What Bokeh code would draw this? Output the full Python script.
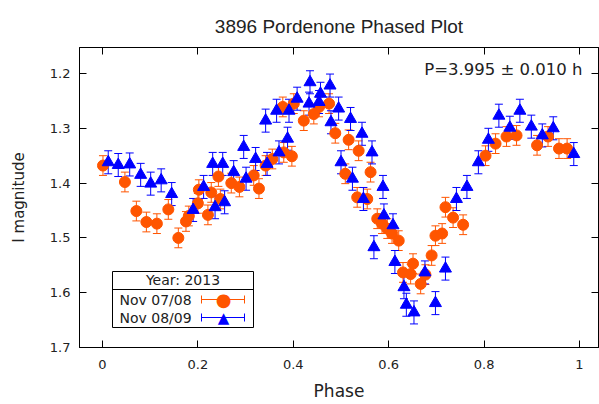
from bokeh.plotting import figure
from bokeh.models import (ColumnDataSource, Range1d, FixedTicker, LinearAxis,
                          Whisker, TeeHead, Label, BoxAnnotation, Arrow)
from bokeh.embed import file_html
from bokeh.resources import INLINE

# ---------------- data ----------------
TITLE = "3896 Pordenone Phased Plot"
X_LABEL = "Phase"
Y_LABEL = "I magnitude"
PERIOD_TEXT = "P=3.995 \u00b1 0.010 h"
LEGEND_TITLE = "Year: 2013"
series_names = ["Nov 07/08", "Nov 08/09"]

x_ticks = [0, 0.2, 0.4, 0.6, 0.8, 1]
x_tick_labels = ["0", "0.2", "0.4", "0.6", "0.8", "1"]
y_ticks = [1.2, 1.3, 1.4, 1.5, 1.6, 1.7]
y_tick_labels = ["1.2", "1.3", "1.4", "1.5", "1.6", "1.7"]

# Nov 07/08 (orange circles)
phase_a = [0.001, 0.047, 0.071, 0.092, 0.114, 0.138, 0.159, 0.175, 0.181, 0.200,
           0.202, 0.221, 0.228, 0.243, 0.247, 0.270, 0.287, 0.317, 0.328, 0.342,
           0.356, 0.380, 0.397, 0.378, 0.401, 0.422, 0.443, 0.454, 0.475, 0.488,
           0.509, 0.516, 0.534, 0.537, 0.555, 0.562, 0.576, 0.586, 0.597, 0.607,
           0.621, 0.630, 0.646, 0.651, 0.667, 0.677, 0.690, 0.698, 0.712, 0.719,
           0.735, 0.756, 0.803, 0.824, 0.847, 0.868, 0.911, 0.934, 0.957, 0.974]
mag_a = [1.368, 1.398, 1.451, 1.471, 1.474, 1.448, 1.500, 1.470, 1.460, 1.437,
         1.412, 1.458, 1.417, 1.388, 1.429, 1.400, 1.407, 1.386, 1.410, 1.368,
         1.356, 1.344, 1.351, 1.261, 1.255, 1.286, 1.274, 1.261, 1.255, 1.309,
         1.383, 1.321, 1.426, 1.341, 1.429, 1.380, 1.465, 1.474, 1.483, 1.492,
         1.505, 1.563, 1.566, 1.547, 1.584, 1.567, 1.532, 1.496, 1.492, 1.444,
         1.463, 1.476, 1.350, 1.328, 1.315, 1.313, 1.331, 1.315, 1.337, 1.337]
err_a = 0.018

# Nov 08/09 (blue triangles)
phase_b = [0.012, 0.033, 0.057, 0.080, 0.101, 0.123, 0.145, 0.190, 0.212, 0.231,
           0.236, 0.252, 0.256, 0.275, 0.296, 0.301, 0.321, 0.342, 0.345, 0.365,
           0.370, 0.388, 0.391, 0.408, 0.433, 0.435, 0.454, 0.457, 0.477, 0.479,
           0.495, 0.500, 0.520, 0.524, 0.544, 0.547, 0.565, 0.569, 0.588, 0.590,
           0.609, 0.613, 0.632, 0.637, 0.653, 0.676, 0.698, 0.719, 0.742, 0.764,
           0.788, 0.809, 0.831, 0.854, 0.875, 0.899, 0.922, 0.945, 0.988]
mag_b = [1.362, 1.367, 1.366, 1.385, 1.401, 1.395, 1.420, 1.449, 1.407, 1.365,
         1.444, 1.365, 1.435, 1.380, 1.334, 1.392, 1.356, 1.286, 1.365, 1.268,
         1.344, 1.319, 1.268, 1.246, 1.255, 1.216, 1.252, 1.237, 1.222, 1.289,
         1.264, 1.362, 1.283, 1.392, 1.310, 1.429, 1.344, 1.517, 1.407, 1.459,
         1.477, 1.544, 1.590, 1.622, 1.636, 1.563, 1.619, 1.556, 1.429, 1.407,
         1.362, 1.321, 1.277, 1.299, 1.268, 1.297, 1.313, 1.300, 1.347]
err_b = 0.021

# ---------------- styling / layout ----------------
ORANGE = "#ff5500"
BLUE = "#0000ff"
TXT = "#222222"
W, H = 599, 404
B_LEFT, B_TOP, B_BOTTOM, B_RIGHT = 79, 47, 57, 1
frame_w = W - B_LEFT - B_RIGHT
frame_h = H - B_TOP - B_BOTTOM
PX_PER_PHASE = 477.0
PX_PER_MAG = 548.0
x_start = -23.0 / PX_PER_PHASE
y_bottom = 1.7

p = figure(width=W, height=H,
           x_range=Range1d(x_start, x_start + frame_w / PX_PER_PHASE),
           y_range=Range1d(y_bottom, y_bottom - frame_h / PX_PER_MAG),
           output_backend="svg", toolbar_location=None,
           min_border_left=B_LEFT, min_border_right=B_RIGHT,
           min_border_top=B_TOP, min_border_bottom=B_BOTTOM,
           title=TITLE)
p.background_fill_color = "white"
p.border_fill_color = "white"
p.grid.visible = False
p.outline_line_color = "black"
p.outline_line_width = 1

p.title.text_font = "Liberation Sans"
p.title.text_font_size = "19px"
p.title.text_font_style = "normal"
p.title.text_color = TXT
p.title.align = "center"
p.title.standoff = 22


def style_axis(ax, ticks, labels, show_labels):
    ax.ticker = FixedTicker(ticks=ticks)
    ax.major_label_overrides = {t: (l if show_labels else "") for t, l in zip(ticks, labels)}
    ax.major_tick_in = 7
    ax.major_tick_out = 0
    ax.minor_tick_line_color = None
    ax.major_tick_line_color = "black"
    ax.axis_line_color = "black"
    ax.major_label_text_font = "DejaVu Sans"
    ax.major_label_text_font_size = "13px"
    ax.major_label_text_color = TXT
    ax.axis_label_text_font = "DejaVu Sans"
    ax.axis_label_text_font_style = "normal"
    ax.axis_label_text_color = TXT


xa = p.xaxis[0]
style_axis(xa, x_ticks, x_tick_labels, True)
xa.axis_label = X_LABEL
xa.axis_label_text_font_size = "17px"
xa.major_label_standoff = 12
xa.axis_label_standoff = 9

ya = p.yaxis[0]
style_axis(ya, y_ticks, y_tick_labels, True)
ya.axis_label = Y_LABEL
ya.axis_label_text_font_size = "15px"
ya.major_label_standoff = 9
ya.axis_label_standoff = 19

top_ax = LinearAxis()
style_axis(top_ax, x_ticks, x_tick_labels, False)
top_ax.major_label_standoff = 0
p.add_layout(top_ax, "above")
right_ax = LinearAxis()
style_axis(right_ax, y_ticks, y_tick_labels, False)
right_ax.major_label_standoff = 0
p.add_layout(right_ax, "right")

src_a = ColumnDataSource(dict(x=phase_a, y=mag_a,
                              upper=[m + err_a for m in mag_a],
                              lower=[m - err_a for m in mag_a]))
src_b = ColumnDataSource(dict(x=phase_b, y=mag_b,
                              upper=[m + err_b for m in mag_b],
                              lower=[m - err_b for m in mag_b]))

for src, col in ((src_a, ORANGE), (src_b, BLUE)):
    p.add_layout(Whisker(source=src, base="x", upper="upper", lower="lower",
                         dimension="height", line_color=col, line_width=1,
                         upper_head=TeeHead(size=8, line_color=col, line_width=1),
                         lower_head=TeeHead(size=8, line_color=col, line_width=1)))

p.scatter("x", "y", source=src_a, marker="circle", size=11,
          fill_color=ORANGE, line_color=ORANGE)
p.scatter("x", "y", source=src_b, marker="triangle", size=12,
          fill_color=BLUE, line_color=BLUE)

# period label
p.add_layout(Label(x=frame_w - 16, y=frame_h - 22, x_units="screen", y_units="screen",
                   text=PERIOD_TEXT, text_align="right", text_baseline="middle",
                   text_font="DejaVu Sans", text_font_size="16.5px", text_color=TXT))

# legend box (frame-relative screen units)
LX0, LX1, LY0, LY1, LSEP = 33, 174, 20, 76, 58
p.add_layout(BoxAnnotation(left=LX0, right=LX1, bottom=LY0, top=LY1,
                           left_units="screen", right_units="screen",
                           top_units="screen", bottom_units="screen",
                           fill_color="white", fill_alpha=1.0,
                           line_color="black", line_width=1, line_alpha=1.0))
p.add_layout(Arrow(x_start=LX0, y_start=LSEP, x_end=LX1, y_end=LSEP,
                   start_units="screen", end_units="screen",
                   start=None, end=None, line_color="black", line_width=1))
p.add_layout(Label(x=(LX0 + LX1) / 2, y=(LSEP + LY1) / 2 + 0.5, x_units="screen", y_units="screen",
                   text=LEGEND_TITLE, text_align="center", text_baseline="middle",
                   text_font="DejaVu Sans", text_font_size="14px", text_color=TXT))
for name, col, mk, mk_size, yy in ((series_names[0], ORANGE, "\u25cf", "18px", 48),
                                   (series_names[1], BLUE, "\u25b2", "15px", 30)):
    p.add_layout(Label(x=40, y=yy, x_units="screen", y_units="screen",
                       text=name, text_align="left", text_baseline="middle",
                       text_font="DejaVu Sans", text_font_size="14px", text_color=TXT))
    p.add_layout(Arrow(x_start=122, y_start=yy, x_end=165, y_end=yy,
                       start_units="screen", end_units="screen",
                       start=TeeHead(size=8, line_color=col, line_width=1),
                       end=TeeHead(size=8, line_color=col, line_width=1),
                       line_color=col, line_width=1))
    p.add_layout(Label(x=144, y=yy, x_units="screen", y_units="screen",
                       text=mk, text_align="center", text_baseline="middle",
                       text_font="DejaVu Sans", text_font_size=mk_size, text_color=col))

open("out.html", "w").write(file_html(p, INLINE))
